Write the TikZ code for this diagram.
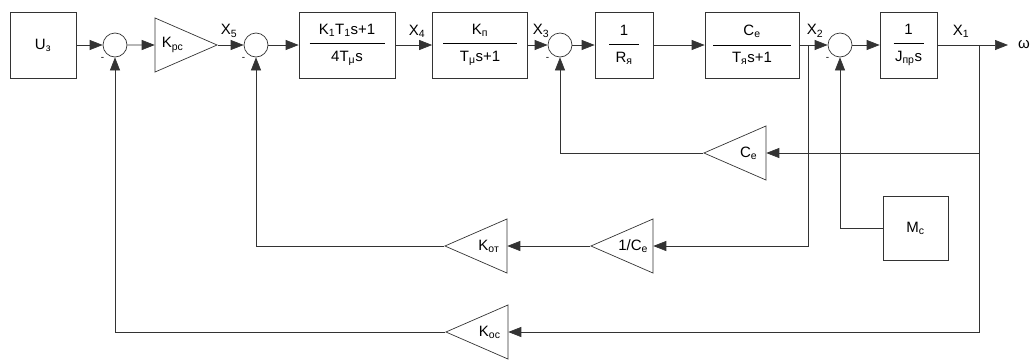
\documentclass[tikz,border=0pt]{standalone}
\usepackage{fontspec}
\setmainfont{Liberation Sans}
\usetikzlibrary{shapes.geometric, arrows.meta, positioning, calc}
\newcommand{\blkfrac}[2]{#1\\[-3pt]\rule[4.5pt]{\linewidth}{0.6pt}\\[-4pt]#2}
\newcommand{\sbs}[1]{\textsubscript{#1}}

\begin{document}
\begin{tikzpicture}[x=1pt, y=-1pt,
			font=\fontsize{15}{17}\selectfont,
			box/.style={rectangle, draw=black!80, line width=0.7pt, minimum height=66pt,
				inner sep=0pt, align=center},
			sum/.style={circle, draw=black!80, line width=0.7pt, minimum size=24pt, inner sep=0pt,
				label={[label distance=-1pt, font=\normalsize]-130:-}},
			amp/.style={isosceles triangle, isosceles triangle stretches, draw=black!80,
				line width=0.7pt, minimum width=54pt, minimum height=62pt, inner sep=0pt},
			back/.style={amp, shape border rotate=180},
			line/.style={-{Triangle[length=13pt,width=10pt]}, line width=0.7pt, draw=black!80}
			]
			\useasboundingbox (0,0) rectangle (1030,362);
			% forward path
			\node[box, minimum width=66pt] (uz) at (43,45) {U\sbs{з}};
			\node[sum] (s1) at (115,45) {};
			\node[amp, anchor=apex] (kpc) at (218,45) {K\sbs{рс}};
			\node[sum] (s2) at (256,45) {};
			\node[box, minimum width=96pt, text width=75pt] (w1) at (347,45) {\blkfrac{K\sbs{1}T\sbs{1}s+1}{4T\sbs{μ}s}};
			\node[box, minimum width=95pt, text width=74pt] (w2) at (480,45) {\blkfrac{K\sbs{п}}{T\sbs{μ}s+1}};
			\node[sum] (s3) at (560,45) {};
			\node[box, minimum width=58pt, text width=30pt] (w3) at (624,45) {\blkfrac{1}{R\sbs{я}}};
			\node[box, minimum width=94pt, text width=78pt] (w4) at (752,45) {\blkfrac{C\sbs{e}}{T\sbs{я}s+1}};
			\coordinate (x2) at (808,45);
			\node[sum] (s4) at (840,45) {};
			\node[box, minimum width=57pt, text width=30pt] (w5) at (908.5,45) {\blkfrac{1}{J\sbs{пр}s}};
			\coordinate (x1) at (979,45);
			\coordinate (out) at (1008,45);
			\node (om) at (1024,45) {ω};
			
			% signal names
			\node (lx5) at (229,31) {X\sbs{5}};
			\node (lx4) at (417,31) {X\sbs{4}};
			\node (lx3) at (541,31) {X\sbs{3}};
			\node (lx2) at (815,31) {X\sbs{2}};
			\node (lx1) at (961,31) {X\sbs{1}};
			
			% feedback
			\node[back, anchor=apex] (ce) at (703,153) {C\sbs{e}};
			\node[back, anchor=apex] (ice) at (590,246) {1/C\sbs{e}};
			\node[back, anchor=apex] (kot) at (444,246) {K\sbs{от}};
			\node[back, anchor=apex] (koc) at (445,332) {K\sbs{ос}};
			\node[box, minimum width=65pt, minimum height=64pt] (mc) at (915.5,228) {M\sbs{с}};
			
			\draw[line] (uz) -- (s1);
			\draw[line] (s1) -- (kpc);
			\draw[line] (kpc.apex) -- (s2);
			\draw[line] (s2) -- (w1);
			\draw[line] (w1) -- (w2);
			\draw[line] (w2) -- (s3);
			\draw[line] (s3) -- (w3);
			\draw[line] (w3) -- (w4);
			\draw[line] (w4) -- (s4);
			\draw[line] (s4) -- (w5);
			\draw[line] (w5) -- (out);
			
			\draw[line] (x1) |- (koc.lower side);
			\draw[line] (x1 |- ce.lower side) -- (ce.lower side);
			\draw[line] (ce.apex) -| (s3);
			\draw[line] (x2) |- (ice.lower side);
			\draw[line] (ice.apex) -- (kot.lower side);
			\draw[line] (kot.apex) -| (s2);
			\draw[line] (koc.apex) -| (s1);
			\draw[line] (mc) -| (s4);
		\end{tikzpicture}
\end{document}
